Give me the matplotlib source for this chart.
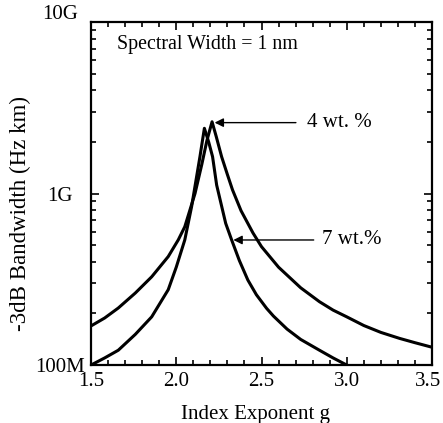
import numpy as np
import matplotlib
matplotlib.use("Agg")
import matplotlib.pyplot as plt
from matplotlib.ticker import FixedLocator, NullFormatter, LogLocator
from matplotlib.transforms import ScaledTranslation

plt.rcParams['font.family'] = ['Liberation Serif', 'DejaVu Serif']

# Data (index exponent g vs -3dB bandwidth, Hz km)
g_4wt = [1.50, 1.58, 1.66, 1.76, 1.856, 1.953, 2.012, 2.05, 2.11, 2.15, 2.18, 2.21,
         2.235, 2.266, 2.30, 2.33, 2.38, 2.45, 2.50, 2.60, 2.73, 2.84, 2.92, 3.00,
         3.10, 3.20, 3.31, 3.40, 3.50]
bw_4wt = [1.69e8, 1.88e8, 2.15e8, 2.63e8, 3.27e8, 4.29e8, 5.37e8, 6.40e8, 1.0e9,
          1.48e9, 2.04e9, 2.62e9, 2.14e9, 1.64e9, 1.29e9, 1.05e9, 7.94e8, 5.89e8,
          4.90e8, 3.72e8, 2.82e8, 2.34e8, 2.09e8, 1.91e8, 1.70e8, 1.55e8, 1.43e8,
          1.35e8, 1.27e8]

g_7wt = [1.50, 1.58, 1.66, 1.76, 1.856, 1.953, 2.00, 2.05, 2.09, 2.139, 2.165,
         2.19, 2.213, 2.237, 2.29, 2.325, 2.37, 2.42, 2.47, 2.53, 2.57, 2.65, 2.73,
         2.84, 2.92, 3.00]
bw_7wt = [1.00e8, 1.10e8, 1.22e8, 1.51e8, 1.91e8, 2.75e8, 3.72e8, 5.36e8, 8.38e8,
          1.64e9, 2.40e9, 2.0e9, 1.64e9, 1.12e9, 6.7e8, 5.36e8, 4.07e8, 3.13e8,
          2.57e8, 2.14e8, 1.93e8, 1.62e8, 1.41e8, 1.22e8, 1.10e8, 1.00e8]

x_ticks = [1.5, 2.0, 2.5, 3.0, 3.5]
x_ticklabels = ['1.5', '2.0', '2.5', '3.0', '3.5']
y_ticks = [1e8, 1e9, 1e10]
y_ticklabels = ['100M', '1G', '10G']

fig = plt.figure(figsize=(4.43, 4.23), dpi=100)
ax = fig.add_axes([0.2054, 0.137, 0.7698, 0.811])

ax.plot(g_4wt, bw_4wt, color='black', lw=2.2, solid_capstyle='round', solid_joinstyle='round')
ax.plot(g_7wt, bw_7wt, color='black', lw=2.2, solid_capstyle='round', solid_joinstyle='round')

ax.set_yscale('log')
ax.set_xlim(1.5, 3.5)
ax.set_ylim(1e8, 1e10)

ax.set_xticks(x_ticks)
ax.set_xticklabels(x_ticklabels)
ax.xaxis.set_minor_locator(FixedLocator(np.arange(1.5, 3.51, 0.1)))
ax.set_yticks(y_ticks)
ax.set_yticklabels(y_ticklabels)
ax.yaxis.set_minor_locator(LogLocator(base=10, subs=np.arange(2, 10)))
ax.yaxis.set_minor_formatter(NullFormatter())

ax.tick_params(which='both', direction='in', top=True, right=True, labelsize=15, width=1.2)
ax.tick_params(which='major', length=6)
ax.tick_params(which='minor', length=3.5)
ax.tick_params(axis='y', which='major', pad=3)
ax.tick_params(axis='x', which='major', pad=5)
for s in ax.spines.values():
    s.set_linewidth(1.6)

# y tick labels centred in a column
for lbl in ax.get_yticklabels():
    lbl.set_ha('center')
    lbl.set_transform(lbl.get_transform() + ScaledTranslation(-0.27, 0, fig.dpi_scale_trans))
lbl10 = ax.get_yticklabels()[2]
lbl10.set_transform(lbl10.get_transform() + ScaledTranslation(0, 0.10, fig.dpi_scale_trans))
lbl35 = ax.get_xticklabels()[-1]
lbl35.set_transform(lbl35.get_transform() + ScaledTranslation(-0.035, 0, fig.dpi_scale_trans))

ax.set_xlabel('Index Exponent g', fontsize=15)
ax.xaxis.set_label_coords(0.481, -0.117)
ax.set_ylabel('-3dB Bandwidth (Hz km)', fontsize=16.5)
ax.yaxis.set_label_coords(-0.175, 0.443)

ax.text(0.076, 0.933, 'Spectral Width = 1 nm', transform=ax.transAxes,
        fontsize=14.4, va='center', ha='left')

ax.annotate('4 wt. %', xy=(2.225, 2.59e9), xytext=(2.767, 2.59e9),
            fontsize=15, va='center', ha='left',
            arrowprops=dict(arrowstyle='-|>', color='black', lw=1.0,
                            mutation_scale=13, shrinkA=6, shrinkB=0))
ax.annotate('7 wt.%', xy=(2.335, 5.36e8), xytext=(2.855, 5.36e8),
            fontsize=15, va='center', ha='left',
            arrowprops=dict(arrowstyle='-|>', color='black', lw=1.0,
                            mutation_scale=13, shrinkA=4, shrinkB=0))

fig.savefig('out.png', dpi=100)
